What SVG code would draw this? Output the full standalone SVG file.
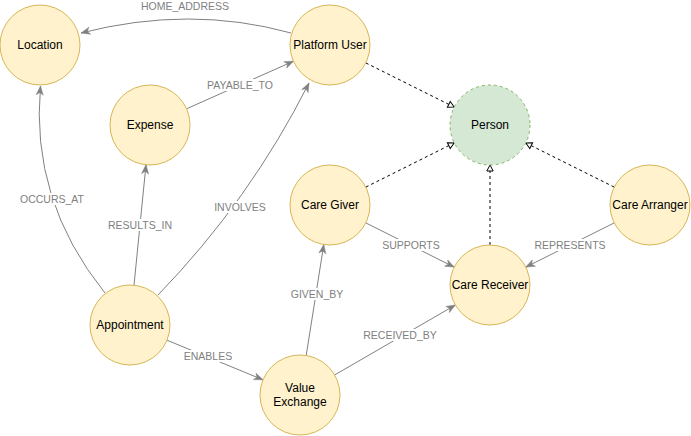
<svg xmlns="http://www.w3.org/2000/svg" width="691" height="436" viewBox="0 0 691 436">
<style>
.node{fill:#fff2cc;stroke:#d6b656;stroke-width:1}
.abstract{fill:#d5e8d4;stroke:#82b366;stroke-width:1;stroke-dasharray:3 3}
.nt{font-family:"Liberation Sans",Arial,sans-serif;font-size:12px;fill:#000;text-anchor:middle}
.edge{fill:none;stroke:#808080;stroke-width:1;marker-end:url(#arrow)}
.inh{fill:none;stroke:#000;stroke-width:1;stroke-dasharray:3 3;marker-end:url(#tri)}
.el{font-family:"Liberation Sans",Arial,sans-serif;font-size:10.5px;fill:#808080;text-anchor:middle}
.lb{fill:#fff}
</style>
<defs>
<marker id="arrow" markerUnits="userSpaceOnUse" markerWidth="10" markerHeight="8" viewBox="0 0 10 8" refX="9" refY="4" orient="auto" overflow="visible">
<path d="M0,0.5 L9,4 L0,7.5 L2.5,4 Z" fill="#808080" stroke="#808080" stroke-width="0.5"/>
</marker>
<marker id="tri" markerUnits="userSpaceOnUse" markerWidth="8" markerHeight="8" viewBox="0 0 8 8" refX="0.5" refY="4" orient="auto" overflow="visible">
<path d="M0.5,0.8 L6.5,4 L0.5,7.2 Z" fill="#fff" stroke="#000" stroke-width="1" stroke-dasharray="none"/>
</marker>
</defs>
<rect width="691" height="436" fill="#fff"/>
<g id="connectors">
<path class="edge" d="M291,33 Q190,5 81,33"/>
<path class="edge" d="M105,293 Q30,200 40.5,86"/>
<path class="edge" d="M158,295 Q250,200 309,83"/>
<path class="edge" d="M134,285.2 L146,164.8"/>
<path class="edge" d="M186.5,108.8 L293.5,61.2"/>
<path class="edge" d="M167,340.2 L263,379.8"/>
<path class="edge" d="M306.2,355.5 L323.8,244.5"/>
<path class="edge" d="M334.6,375 L455.4,305"/>
<path class="edge" d="M365.8,222.9 L454.2,267.1"/>
<path class="edge" d="M614.2,222.9 L525.8,267.1"/>
<path class="inh" d="M365.8,62.9 L448.8,104.4"/>
<path class="inh" d="M365.8,187.1 L448.8,145.6"/>
<path class="inh" d="M614.2,187.1 L531.2,145.6"/>
<path class="inh" d="M490,245 L490,171"/>
<g id="edge-labels">
<text class="el" x="185" y="10">HOME_ADDRESS</text>
<rect class="lb" x="21" y="193" width="62" height="12"/>
<text class="el" x="52" y="203">OCCURS_AT</text>
<rect class="lb" x="206" y="79" width="68" height="12"/>
<text class="el" x="240" y="89">PAYABLE_TO</text>
<rect class="lb" x="107" y="219" width="66" height="12"/>
<text class="el" x="140" y="229">RESULTS_IN</text>
<rect class="lb" x="214" y="201" width="52" height="12"/>
<text class="el" x="240" y="211">INVOLVES</text>
<rect class="lb" x="184" y="350" width="48" height="12"/>
<text class="el" x="208" y="360">ENABLES</text>
<rect class="lb" x="290" y="288" width="54" height="12"/>
<text class="el" x="317" y="298">GIVEN_BY</text>
<rect class="lb" x="365" y="329" width="70" height="12"/>
<text class="el" x="400" y="339">RECEIVED_BY</text>
<rect class="lb" x="383" y="239" width="56" height="12"/>
<text class="el" x="411" y="249">SUPPORTS</text>
<rect class="lb" x="536" y="239" width="68" height="12"/>
<text class="el" x="570" y="249">REPRESENTS</text>
</g>
</g>
<g id="node-location"><circle class="node" cx="40" cy="45" r="40"/><text class="nt" x="40" y="49">Location</text></g>
<g id="node-platform-user"><circle class="node" cx="330" cy="45" r="40"/><text class="nt" x="330" y="49">Platform User</text></g>
<g id="node-expense"><circle class="node" cx="150" cy="125" r="40"/><text class="nt" x="150" y="129">Expense</text></g>
<g id="node-person"><circle class="abstract" cx="490" cy="125" r="40"/><text class="nt" x="490" y="129">Person</text></g>
<g id="node-care-giver"><circle class="node" cx="330" cy="205" r="40"/><text class="nt" x="330" y="209">Care Giver</text></g>
<g id="node-care-arranger"><circle class="node" cx="650" cy="205" r="40"/><text class="nt" x="650" y="209">Care Arranger</text></g>
<g id="node-care-receiver"><circle class="node" cx="490" cy="285" r="40"/><text class="nt" x="490" y="289">Care Receiver</text></g>
<g id="node-appointment"><circle class="node" cx="130" cy="325" r="40"/><text class="nt" x="130" y="329">Appointment</text></g>
<g id="node-value-exchange"><circle class="node" cx="300" cy="395" r="40"/><text class="nt" x="300" y="392">Value</text><text class="nt" x="300" y="406">Exchange</text></g>
</svg>
